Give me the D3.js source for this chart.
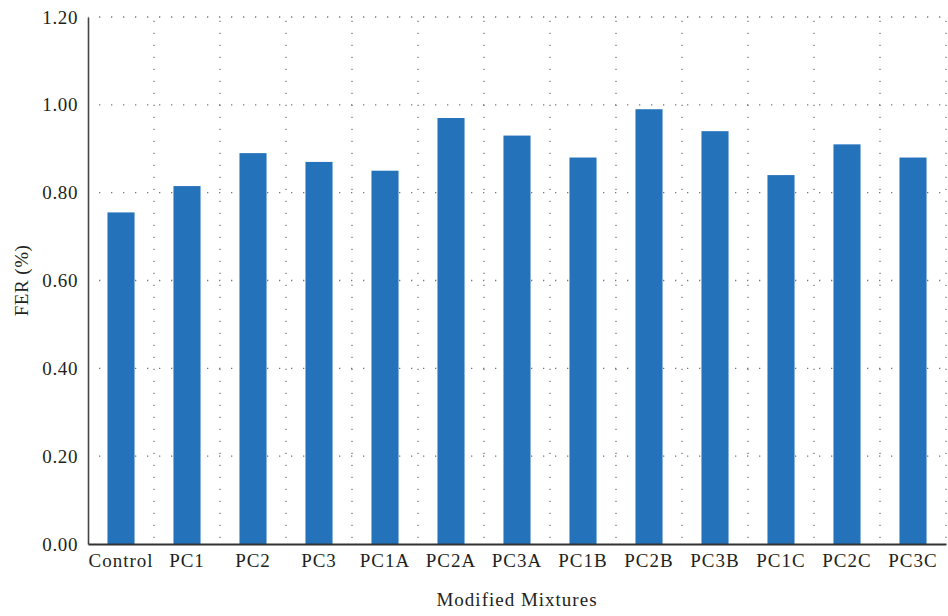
<!DOCTYPE html>
<html>
<head>
  <script src="https://cdn.jsdelivr.net/npm/d3@7"></script>
  <style>
    html, body { margin: 0; background: #fff; }
    svg text { font-family: "Liberation Serif", "DejaVu Serif", serif; fill: #231f20; }
  </style>
</head>
<body>
<svg id="chart" width="948" height="616"></svg>
<script>
  var mixtures = ["Control", "PC1", "PC2", "PC3", "PC1A", "PC2A", "PC3A", "PC1B", "PC2B", "PC3B", "PC1C", "PC2C", "PC3C"];
  var fer = [0.755, 0.815, 0.89, 0.87, 0.85, 0.97, 0.93, 0.88, 0.99, 0.94, 0.84, 0.91, 0.88];
  var yTicks = [0, 0.2, 0.4, 0.6, 0.8, 1.0, 1.2];

  (function () {

  var plotLeft = 88, plotRight = 946, plotTop = 17, plotBottom = 544;
  var svg = d3.select("#chart");

  var x = d3.scaleBand().domain(mixtures).range([plotLeft, plotRight])
      .paddingInner(0.59).paddingOuter(0.295);
  var cell = d3.scaleBand().domain(mixtures).range([plotLeft, plotRight]).padding(0);
  var y = d3.scaleLinear().domain([0, 1.2]).range([plotBottom, plotTop]);

  // dotted grid
  svg.append("g").selectAll("line")
      .data(yTicks.slice(1))
    .enter().append("line")
      .attr("x1", plotLeft).attr("x2", plotRight)
      .attr("y1", function(d) { return y(d); })
      .attr("y2", function(d) { return y(d); })
      .attr("stroke", "#777").attr("stroke-width", 1.3)
      .attr("stroke-dasharray", "1.3 10.7").attr("stroke-dashoffset", -11);

  svg.append("g").selectAll("line")
      .data(mixtures)
    .enter().append("line")
      .attr("x1", function(d) { return cell(d) + cell.bandwidth(); })
      .attr("x2", function(d) { return cell(d) + cell.bandwidth(); })
      .attr("y1", plotBottom).attr("y2", plotTop)
      .attr("stroke", "#777").attr("stroke-width", 1.3)
      .attr("stroke-dasharray", "1.3 10.7").attr("stroke-dashoffset", -6);

  // bars
  svg.append("g").selectAll("rect")
      .data(fer)
    .enter().append("rect")
      .attr("x", function(d, i) { return x(mixtures[i]); })
      .attr("width", x.bandwidth())
      .attr("y", function(d) { return y(d); })
      .attr("height", function(d) { return plotBottom - y(d); })
      .attr("fill", "#2372ba");

  // axes
  var yAxis = svg.append("g")
      .attr("transform", "translate(" + plotLeft + ",0)")
      .call(d3.axisLeft(y).tickValues(yTicks).tickFormat(d3.format(".2f")).tickSize(0).tickPadding(10));
  yAxis.select(".domain").attr("stroke", "#444").attr("stroke-width", 1.6);
  yAxis.selectAll("text").attr("font-size", 19).attr("fill", "#231f20")
      .attr("font-family", "Liberation Serif").style("letter-spacing", "0.6px");

  var xAxis = svg.append("g")
      .attr("transform", "translate(0," + plotBottom + ")")
      .call(d3.axisBottom(x).tickSize(0).tickPadding(10));
  xAxis.select(".domain").attr("stroke", "#333").attr("stroke-width", 2);
  xAxis.selectAll("text").attr("font-size", 19).attr("fill", "#231f20")
      .attr("font-family", "Liberation Serif").style("letter-spacing", "1px")
      .attr("dy", "0.71em");

  // titles
  svg.append("text")
      .attr("x", (plotLeft + plotRight) / 2).attr("y", 606)
      .attr("text-anchor", "middle").attr("font-size", 19)
      .style("letter-spacing", "1px")
      .text("Modified Mixtures");

  svg.append("text")
      .attr("transform", "translate(28," + (plotTop + plotBottom) / 2 + ") rotate(-90)")
      .attr("text-anchor", "middle").attr("font-size", 19)
      .style("letter-spacing", "0.5px")
      .text("FER (%)");

  })();
</script>
</body>
</html>
